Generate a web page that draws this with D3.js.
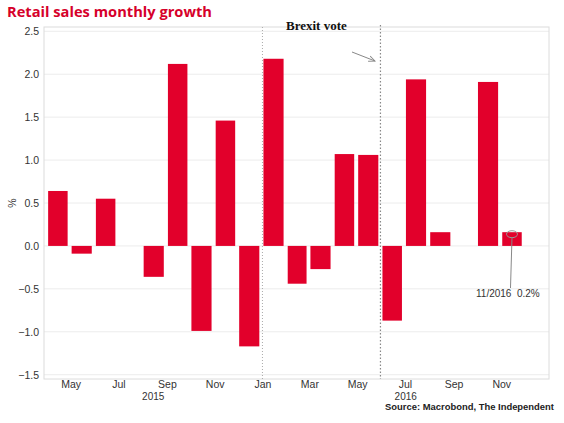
<!DOCTYPE html>
<html><head><meta charset="utf-8">
<script src="https://cdn.jsdelivr.net/npm/d3@7"></script>
<style>body{margin:0;background:#fff}svg{display:block}</style>
</head><body>
<script>
const months = ["2015-04","2015-05","2015-06","2015-07","2015-08","2015-09","2015-10","2015-11","2015-12","2016-01","2016-02","2016-03","2016-04","2016-05","2016-06","2016-07","2016-08","2016-09","2016-10","2016-11"];
const growth = [0.64,-0.09,0.55,null,-0.36,2.12,-0.99,1.46,-1.17,2.18,-0.44,-0.27,1.07,1.06,-0.87,1.94,0.16,null,1.91,0.16];
const yTicks = [-1.5,-1.0,-0.5,0.0,0.5,1.0,1.5,2.0,2.5];
const monthTicks = ["2015-05","2015-07","2015-09","2015-11","2016-01","2016-03","2016-05","2016-07","2016-09","2016-11"];
const years = ["2015","2016"];
const title = "Retail sales monthly growth";
const source = "Source: Macrobond, The Independent";
const brexitLabel = "Brexit vote";
const annotLabel = "11/2016  0.2%";

(function(){
const W=564,H=423;
const svg=d3.select("body").append("svg").attr("width",W).attr("height",H);
const parse=d3.timeParse("%Y-%m");
const data=months.map((m,i)=>({d:parse(m),v:growth[i]}));
const pL=44,pR=549,pT=27,pB=379;
const x=d3.scaleTime().domain([new Date(2015,2,28),new Date(2017,0,1)]).range([pL,pR]);
const y=d3.scaleLinear().domain([-1.55,2.55]).range([pB,pT]);
const red="#e2002b", font="'Liberation Sans', Arial, sans-serif";

// grid & frame
svg.append("g").selectAll("line").data(yTicks).join("line")
  .attr("x1",pL).attr("x2",pR).attr("y1",d=>y(d)).attr("y2",d=>y(d))
  .attr("stroke","#ececec").attr("stroke-width",1);
svg.append("rect").attr("x",pL).attr("y",pT).attr("width",pR-pL).attr("height",pB-pT)
  .attr("fill","none").attr("stroke","#dcdcdc");

// year separator
svg.append("line").attr("x1",x(new Date(2016,0,1))).attr("x2",x(new Date(2016,0,1)))
  .attr("y1",pT).attr("y2",pB).attr("stroke","#aaa").attr("stroke-dasharray","1,2");

// bars
svg.append("g").selectAll("rect").data(data.filter(d=>d.v!==null)).join("rect")
  .attr("x",d=>x(d.d)+1)
  .attr("width",d=>(x(d3.timeMonth.offset(d.d,1))-x(d.d))*0.83)
  .attr("y",d=>y(Math.max(0,d.v)))
  .attr("height",d=>Math.abs(y(d.v)-y(0)))
  .attr("fill",red);

// brexit line
const bx=x(new Date(2016,5,1))-1;
svg.append("line").attr("x1",bx).attr("x2",bx).attr("y1",25).attr("y2",pB)
  .attr("stroke","#888").attr("stroke-width",1.2).attr("stroke-dasharray","1.5,2");
svg.append("text").attr("x",286).attr("y",30).text(brexitLabel)
  .attr("font-family","'Liberation Serif', 'Times New Roman', serif").attr("font-weight","bold")
  .attr("font-size",13).attr("fill","#111");
svg.append("defs").append("marker").attr("id","ah").attr("viewBox","0 0 10 10").attr("refX",9).attr("refY",5)
  .attr("markerWidth",7).attr("markerHeight",7).attr("orient","auto")
  .append("path").attr("d","M0,1 L9,5 L0,9").attr("fill","none").attr("stroke","#888").attr("stroke-width",1.3);
svg.append("line").attr("x1",352).attr("y1",52).attr("x2",375).attr("y2",61)
  .attr("stroke","#888").attr("stroke-width",1).attr("marker-end","url(#ah)");

// y axis
const ya=svg.append("g").attr("transform",`translate(${pL},0)`)
  .call(d3.axisLeft(y).tickValues(yTicks).tickSize(0).tickPadding(5).tickFormat(d3.format(".1f")));
ya.select(".domain").remove();
ya.selectAll("text").attr("font-family",font).attr("font-size",10.5).attr("fill","#333");
svg.append("text").attr("transform",`translate(16,${(pT+pB)/2}) rotate(-90)`)
  .attr("text-anchor","middle").attr("font-family",font).attr("font-size",10.5).attr("fill","#333").text("%");

// x axis
const xa=svg.append("g").attr("transform",`translate(0,${pB})`)
  .call(d3.axisBottom(x).tickValues(monthTicks.map(parse)).tickSize(0).tickPadding(1.5).tickFormat(d3.timeFormat("%b")));
xa.select(".domain").remove();
xa.selectAll("text").attr("font-family",font).attr("font-size",10.5).attr("fill","#333");
const yrBounds=[[x.domain()[0],new Date(2016,0,1)],[new Date(2016,0,1),x.domain()[1]]];
svg.append("g").selectAll("text").data(years).join("text")
  .attr("x",(d,i)=>(x(yrBounds[i][0])+x(yrBounds[i][1]))/2).attr("y",399.5)
  .attr("text-anchor","middle").attr("font-family",font).attr("font-size",10).attr("fill","#333").text(d=>d);

// annotation
const last=data[data.length-1];
const ax=x(last.d)+1+(x(d3.timeMonth.offset(last.d,1))-x(last.d))*0.415;
svg.append("ellipse").attr("cx",ax).attr("cy",y(last.v)+2).attr("rx",5.5).attr("ry",3.5)
  .attr("fill","none").attr("stroke","#999").attr("stroke-width",1);
svg.append("line").attr("x1",ax).attr("y1",y(last.v)+5.5).attr("x2",ax-1.5).attr("y2",288)
  .attr("stroke","#888").attr("stroke-width",1);
svg.append("text").attr("x",476).attr("y",297).text(annotLabel)
  .attr("font-family",font).attr("font-size",10).attr("fill","#333").attr("xml:space","preserve");

// title & source
svg.append("text").attr("x",7).attr("y",17).text(title)
  .attr("font-family","'Open Sans', 'Liberation Sans', sans-serif").attr("font-weight","bold")
  .attr("font-size",14).attr("fill","#d6002a").attr("textLength",205).attr("lengthAdjust","spacingAndGlyphs");
svg.append("text").attr("x",385).attr("y",409.5).text(source)
  .attr("font-family",font).attr("font-weight","bold").attr("font-size",9).attr("fill","#222")
  .attr("textLength",169).attr("lengthAdjust","spacingAndGlyphs");
})();
</script>
</body></html>
